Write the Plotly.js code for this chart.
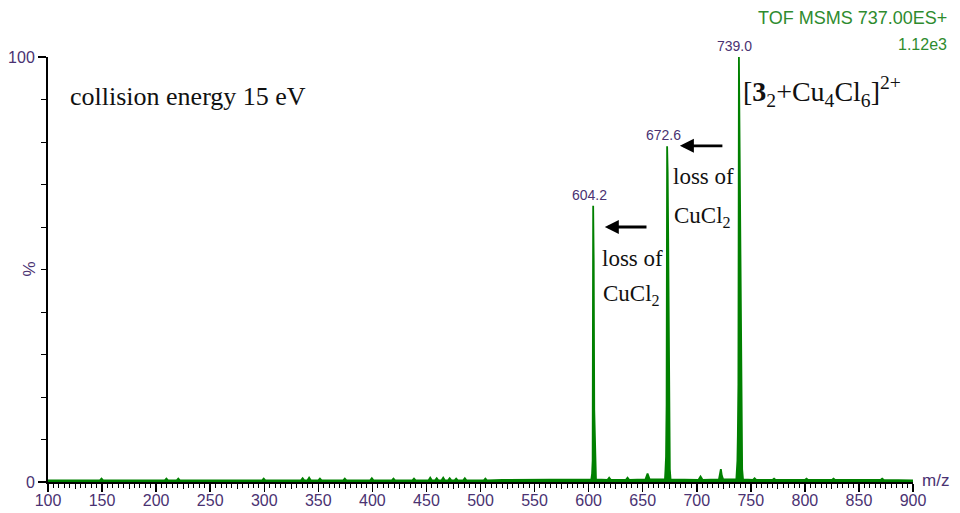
<!DOCTYPE html>
<html>
<head>
<meta charset="utf-8">
<script src="https://cdn.plot.ly/plotly-3.0.1.min.js"></script>
<style>html,body{margin:0;padding:0;background:#fff;}#chart{width:960px;height:513px;}</style>
</head>
<body>
<div id="chart"></div>
<script>
// spectrum (m/z, relative intensity %)
const mz = [100, 120, 148, 149.5, 151, 180, 208, 209.5, 211, 219, 220.5, 222, 260, 298, 299.5, 301,
  334, 335.5, 337, 340, 341.5, 343, 350, 351.5, 353, 373, 374.5, 376, 398, 399.5, 401, 418, 419.5, 421,
  437, 438.5, 440, 452, 453.5, 455, 458, 459.5, 461, 464, 465.5, 467, 470, 471.5, 473, 476, 477.5, 479,
  484, 485.5, 487, 503, 504.5, 506, 520, 540, 560, 580, 595,
  602.5, 603.2, 603.7, 604.2, 604.7, 605.2, 605.7, 606.2, 606.8,
  617.5, 619, 620.5, 634.5, 636, 637.5, 652.5, 654.5, 656.5,
  670.6, 671.1, 671.6, 672.1, 672.6, 673.1, 673.6, 674.1, 674.6, 675.1, 675.8,
  701.5, 703.5, 705.5, 720.5, 722.3, 723.2, 724.5,
  736.6, 737.3, 737.6, 738.0, 738.5, 739.0, 739.5, 740.0, 740.5, 741.0, 741.5, 742.0, 742.8,
  752, 753.5, 755, 770, 771.5, 773, 790, 800, 801.5, 803, 825, 826.5, 828, 850, 870, 871.5, 873, 900];
const intensity = [0.4, 0.4, 0.4, 0.8, 0.4, 0.4, 0.4, 0.8, 0.4, 0.4, 0.8, 0.4, 0.4, 0.4, 0.8, 0.4,
  0.4, 0.9, 0.4, 0.4, 1.0, 0.4, 0.4, 0.8, 0.4, 0.4, 0.8, 0.4, 0.4, 0.9, 0.4, 0.4, 0.8, 0.4,
  0.4, 0.8, 0.4, 0.4, 1.0, 0.4, 0.4, 0.9, 0.4, 0.4, 1.0, 0.4, 0.4, 0.9, 0.4, 0.4, 0.8, 0.4,
  0.4, 0.9, 0.4, 0.4, 0.8, 0.4, 0.5, 0.5, 0.5, 0.6, 0.6,
  0.6, 2, 5, 65, 52, 17, 8, 3, 0.6,
  0.5, 1.0, 0.5, 0.5, 1.0, 0.5, 0.6, 2.0, 0.6,
  0.6, 3, 6, 18, 79, 73, 57, 29, 10, 3, 0.6,
  0.5, 1.3, 0.5, 0.6, 3.0, 1.5, 0.6,
  0.6, 3, 5, 11, 23, 100, 84, 71, 56, 23, 8, 3, 0.6,
  0.5, 0.9, 0.5, 0.5, 0.8, 0.5, 0.5, 0.5, 0.8, 0.5, 0.5, 0.8, 0.5, 0.5, 0.5, 0.8, 0.5, 0.4];

// labelled peaks
const peakMz = [604.2, 672.6, 739.0];
const peakInt = [65, 79, 100];
const peakText = ["604.2", "672.6", "739.0"];

// ticks
const xTickVals = [100,150,200,250,300,350,400,450,500,550,600,650,700,750,800,850,900];
const xTickText = ["100","150","200","250","300","350","400","450","500","550","600","650","700","750","800","850","900"];
const xMidTicks = [125,175,225,275,325,375,425,475,525,575,625,675,725,775,825,875];
const yTickVals = [0, 100];
const yTickText = ["0", "100"];

// text annotations
const instrumentText = "TOF MSMS 737.00ES+";
const scaleText = "1.12e3";
const conditionText = "collision energy 15 eV";
const ionText = "[<b>3</b><sub>2</sub>+Cu<sub>4</sub>Cl<sub>6</sub>]<sup>2+</sup>";
const lossLine1 = "loss of";
const lossLine2 = "CuCl<sub>2</sub>";

const green = "#008000";
const labelColor = "#4a3272";
const serif = "Liberation Serif, Times New Roman, serif";
const sans = "Liberation Sans, Arial, sans-serif";

const traces = [
  {x: mz, y: intensity, type: "scatter", mode: "lines", fill: "tozeroy",
   fillcolor: green, line: {color: green, width: 1.8}, hoverinfo: "skip", showlegend: false},
  {x: [], y: [], xaxis: "x2", type: "scatter", showlegend: false}
];

const annotations = [];
for (let i = 0; i < peakMz.length; i++) {
  annotations.push({x: peakMz[i], y: peakInt[i], xref: "x", yref: "y", text: peakText[i],
    showarrow: false, yanchor: "bottom", yshift: 1, xshift: -4, font: {family: sans, size: 14, color: labelColor}});
}
annotations.push(
  {xref: "paper", yref: "paper", x: 1, y: 1, xanchor: "right", yanchor: "middle", xshift: 36, yshift: 39,
   text: instrumentText, showarrow: false, font: {family: sans, size: 18, color: "#2e8b2e"}},
  {xref: "paper", yref: "paper", x: 1, y: 1, xanchor: "right", yanchor: "middle", xshift: 36, yshift: 13,
   text: scaleText, showarrow: false, font: {family: sans, size: 16, color: "#2e8b2e"}},
  {xref: "paper", yref: "paper", x: 0, y: 0.908, xanchor: "left", yanchor: "middle", xshift: 20,
   text: conditionText, showarrow: false, font: {family: serif, size: 26, color: "#111"}},
  {xref: "x", yref: "paper", x: 741, y: 0.918, xanchor: "left", yanchor: "middle",
   text: ionText, showarrow: false, font: {family: serif, size: 28, color: "#111"}},
  {xref: "x", yref: "y", x: 676.0, y: 71.8, xanchor: "left", yanchor: "middle",
   text: lossLine1, showarrow: false, font: {family: serif, size: 23, color: "#111"}},
  {xref: "x", yref: "y", x: 677.0, y: 62.4, xanchor: "left", yanchor: "middle",
   text: lossLine2, showarrow: false, font: {family: serif, size: 23, color: "#111"}},
  {xref: "x", yref: "y", x: 610.3, y: 52.7, xanchor: "left", yanchor: "middle",
   text: lossLine1, showarrow: false, font: {family: serif, size: 23, color: "#111"}},
  {xref: "x", yref: "y", x: 611.2, y: 44.0, xanchor: "left", yanchor: "middle",
   text: lossLine2, showarrow: false, font: {family: serif, size: 23, color: "#111"}},
  {xref: "x", yref: "y", x: 684.4, y: 79.1, axref: "x", ayref: "y", ax: 725.1, ay: 79.1,
   text: "", showarrow: true, arrowhead: 2, arrowsize: 1, arrowwidth: 2.8, arrowcolor: "#000"},
  {xref: "x", yref: "y", x: 615.0, y: 60.0, axref: "x", ayref: "y", ax: 654.9, ay: 60.0,
   text: "", showarrow: true, arrowhead: 2, arrowsize: 1, arrowwidth: 2.8, arrowcolor: "#000"},
  {xref: "paper", yref: "y", x: 0, y: 50, xanchor: "center", yanchor: "middle", xshift: -19, text: "%", textangle: -90, showarrow: false,
   font: {family: sans, size: 17, color: labelColor}},
  {xref: "paper", yref: "paper", x: 1, y: 0, xanchor: "left", yanchor: "middle", xshift: 7, yshift: 2,
   text: "m/z", showarrow: false, font: {family: sans, size: 17, color: labelColor}}
);

const layout = {
  width: 960, height: 513,
  margin: {l: 48, r: 47, t: 57, b: 31},
  paper_bgcolor: "#fff", plot_bgcolor: "#fff",
  showlegend: false,
  xaxis: {range: [100, 900], showgrid: false, zeroline: false, showline: true, linecolor: "#000", linewidth: 2,
    ticks: "outside", ticklen: 8, tickwidth: 1.5, tickcolor: "#000",
    tickmode: "array", tickvals: xTickVals, ticktext: xTickText, ticklabelstandoff: -5,
    tickfont: {family: sans, size: 16, color: labelColor},
    minor: {dtick: 5, tick0: 100, ticks: "outside", ticklen: 4, tickwidth: 1, tickcolor: "#000", showgrid: false},
    fixedrange: true},
  xaxis2: {overlaying: "x", matches: "x", anchor: "y", side: "bottom", range: [100, 900], showgrid: false, zeroline: false,
    showline: false, ticks: "outside", ticklen: 6, tickwidth: 1, tickcolor: "#000",
    tickmode: "array", tickvals: xMidTicks, showticklabels: false},
  yaxis: {range: [0, 100], showgrid: false, zeroline: false, showline: true, linecolor: "#000", linewidth: 2,
    ticks: "outside", ticklen: 8, tickwidth: 1.5, tickcolor: "#000",
    tickmode: "array", tickvals: yTickVals, ticktext: yTickText,
    tickfont: {family: sans, size: 16, color: labelColor},
    minor: {dtick: 10, tick0: 0, ticks: "outside", ticklen: 5, tickwidth: 1, tickcolor: "#000", showgrid: false},
    fixedrange: true},
  annotations: annotations
};

Plotly.newPlot("chart", traces, layout, {displayModeBar: false, staticPlot: true});
</script>
</body>
</html>
